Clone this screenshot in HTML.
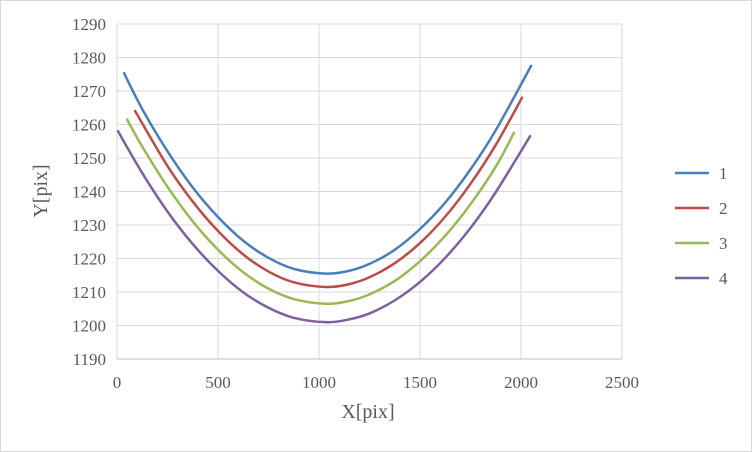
<!DOCTYPE html>
<html><head><meta charset="utf-8"><style>
body{margin:0;background:#fff}
svg{display:block;font-family:"Liberation Serif",serif}
</style></head><body>
<svg width="752" height="452">
<rect x="0.5" y="0.5" width="751" height="451" fill="#fff" stroke="#d9d9d9"/>
<g id="grid"></g><g id="series"></g><g id="legend"></g>
<text x="368" y="418" font-size="20" fill="#595959" text-anchor="middle">X[pix]</text>
<text transform="translate(47,191) rotate(-90)" font-size="20" fill="#595959" text-anchor="middle">Y[pix]</text>
</svg>
<script>
const xTicks=[0,500,1000,1500,2000,2500];
const yTicks=[1190,1200,1210,1220,1230,1240,1250,1260,1270,1280,1290];
const seriesNames=["1","2","3","4"];
const s1x=[35,125,250,375,500,625,750,875,1030,1140,1250,1375,1500,1625,1750,1875,2050];
const s1y=[1275.3,1264.6,1252,1241.2,1232.4,1225.3,1220.2,1216.9,1215.5,1216.2,1218.4,1222.6,1228.8,1236.7,1246.6,1258.3,1277.5];
const s2x=[90,250,375,500,625,750,875,1030,1140,1250,1375,1500,1625,1750,1875,2005];
const s2y=[1264,1247.6,1237,1228.2,1221.2,1216.1,1212.9,1211.5,1212.2,1214.4,1218.6,1224.6,1232.5,1242.3,1253.9,1268];
const s3x=[50,125,250,375,500,625,750,875,1030,1140,1250,1375,1500,1625,1750,1875,1965];
const s3y=[1261.5,1253.4,1241.4,1231.1,1222.6,1215.9,1211,1207.9,1206.5,1207.2,1209.3,1213.3,1219.2,1226.8,1236.2,1247.4,1257.5];
const s4x=[5,125,250,375,500,625,750,875,1030,1140,1250,1375,1500,1625,1750,1875,2045];
const s4y=[1258,1245.5,1234,1224.3,1216.3,1209.9,1205.3,1202.3,1201,1201.7,1203.6,1207.5,1213,1220.2,1229.1,1239.8,1256.5];
const colors=["#4a7ebb","#be4b48","#98b954","#7d60a0"];
const NS="http://www.w3.org/2000/svg";
const X=v=>117+v*505/2500, Y=v=>24+(1290-v)*335/100;
function mk(t,a,p){const e=document.createElementNS(NS,t);for(const k in a)e.setAttribute(k,a[k]);p.appendChild(e);return e;}
const g=document.getElementById('grid');
yTicks.forEach(v=>{
 const l=mk('line',{x1:117,x2:622,y1:Y(v),y2:Y(v),stroke:'#d9d9d9'},g);
 
 
 const t=mk('text',{x:106,y:Y(v)+6,'font-size':17,fill:'#595959','text-anchor':'end'},g);t.textContent=v;
 
 
});
xTicks.forEach(v=>{
 const l=mk('line',{x1:X(v),x2:X(v),y1:24,y2:359,stroke:'#d9d9d9'},g);
 
 
 const t=mk('text',{x:X(v),y:388,'font-size':17,fill:'#595959','text-anchor':'middle'},g);t.textContent=v;
 
 
});
const ax=mk('line',{x1:117,x2:622,y1:359,y2:359,stroke:'#bfbfbf'},g);


function path(xs,ys){const p=xs.map((x,i)=>[X(x),Y(ys[i])]);let d='M'+p[0];
 for(let i=0;i<p.length-1;i++){const p0=p[Math.max(i-1,0)],p1=p[i],p2=p[i+1],p3=p[Math.min(i+2,p.length-1)];
 d+=` C${p1[0]+(p2[0]-p0[0])/6},${p1[1]+(p2[1]-p0[1])/6} ${p2[0]-(p3[0]-p1[0])/6},${p2[1]-(p3[1]-p1[1])/6} ${p2[0]},${p2[1]}`;}
 return d;}
const sx=[s1x,s2x,s3x,s4x],sy=[s1y,s2y,s3y,s4y];
const sg=document.getElementById('series'),lg=document.getElementById('legend');
for(let i=0;i<4;i++){
 const p=mk('path',{d:path(sx[i],sy[i]),fill:'none',stroke:colors[i],'stroke-width':2.5,'stroke-linecap':'round','stroke-linejoin':'round'},sg);
 
 
 const ly=173+i*35;
 const l=mk('line',{x1:675,x2:709,y1:ly,y2:ly,stroke:colors[i],'stroke-width':2.5},lg);
 
 
 const t=mk('text',{x:719,y:ly+6,'font-size':17,fill:'#595959'},lg);t.textContent=seriesNames[i];
 
 
}
</script>
</body></html>
